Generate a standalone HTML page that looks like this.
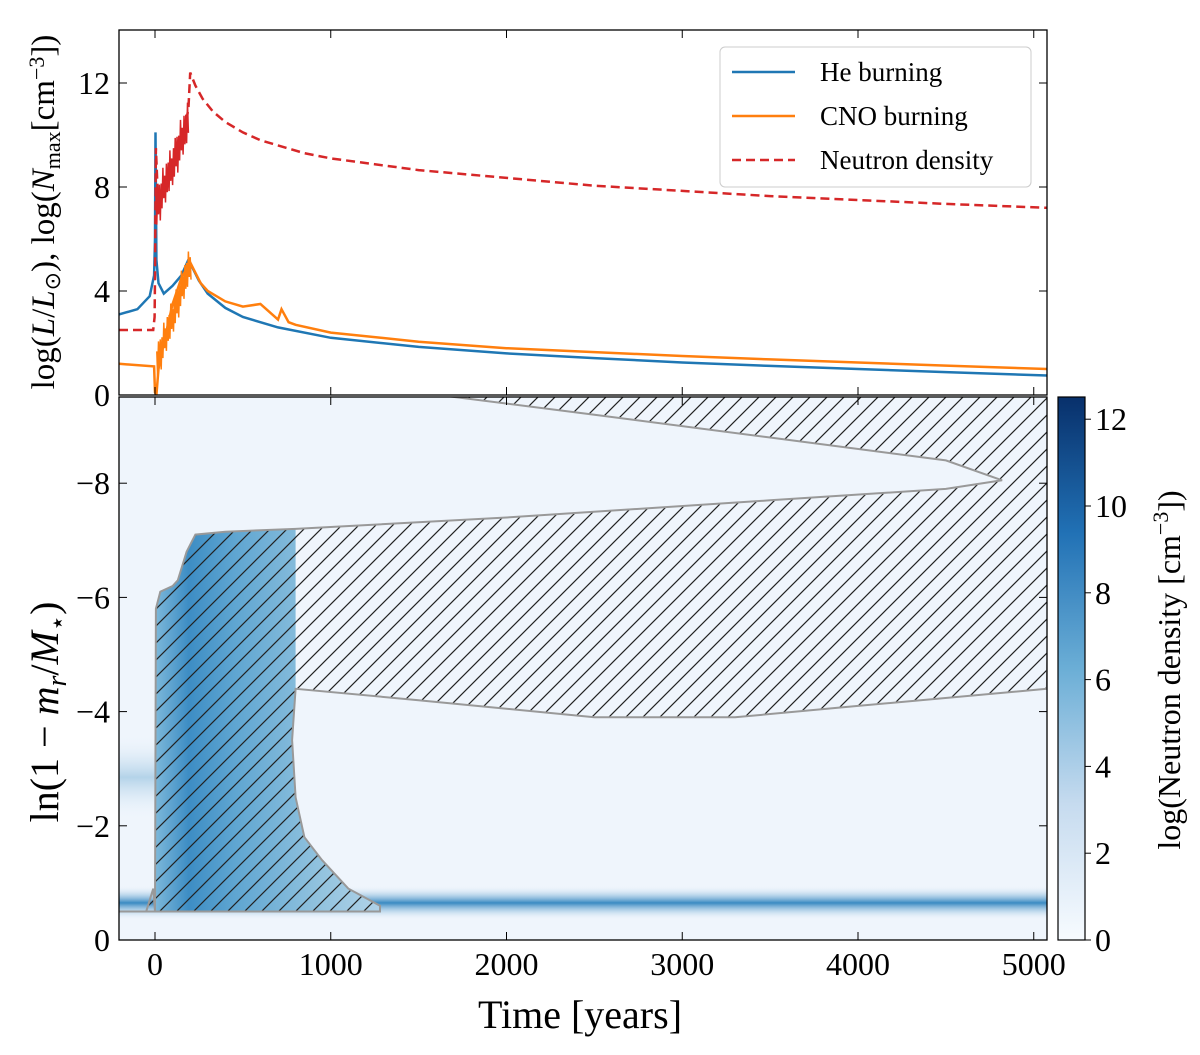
<!DOCTYPE html>
<html><head><meta charset="utf-8"><style>
body{margin:0;background:#fff;}
svg text{font-family:"Liberation Serif",serif;fill:#000;}
</style></head><body>
<svg id="c" width="1200" height="1050" viewBox="0 0 1200 1050">
<defs>
<pattern id="hatch" patternUnits="userSpaceOnUse" width="17" height="17">
<path d="M-2,19 L19,-2 M-2,2 L2,-2 M15,19 L19,15" stroke="#222" stroke-width="1.2"/>
</pattern>
<linearGradient id="convBlue" x1="0" x2="1" y1="0" y2="0">
<stop offset="0" stop-color="#7db8da"/>
<stop offset="0.15" stop-color="#3d8dc4"/>
<stop offset="0.35" stop-color="#5ea5d1"/>
<stop offset="0.75" stop-color="#94c4df"/>
<stop offset="1" stop-color="#b0d2e8"/>
</linearGradient>
<linearGradient id="band" x1="0" x2="0" y1="0" y2="1">
<stop offset="0" stop-color="#f0f6fd" stop-opacity="0"/>
<stop offset="0.5" stop-color="#3a8ac2"/>
<stop offset="1" stop-color="#f0f6fd" stop-opacity="0"/>
</linearGradient>
<linearGradient id="band2" x1="0" x2="0" y1="0" y2="1">
<stop offset="0" stop-color="#f0f6fd" stop-opacity="0"/>
<stop offset="0.5" stop-color="#b4d3e9"/>
<stop offset="1" stop-color="#f0f6fd" stop-opacity="0"/>
</linearGradient>
<linearGradient id="cbar" x1="0" x2="0" y1="1" y2="0">
<stop offset="0" stop-color="#f7fbff"/>
<stop offset="0.25" stop-color="#c6dbef"/>
<stop offset="0.5" stop-color="#6baed6"/>
<stop offset="0.75" stop-color="#2171b5"/>
<stop offset="1" stop-color="#08306b"/>
</linearGradient>
<clipPath id="clipTop"><rect x="119" y="30" width="928" height="365"/></clipPath>
<clipPath id="clipBot"><rect x="119" y="397" width="928" height="543"/></clipPath>
</defs>
<g id="topPanel"></g>
<g id="botPanel"></g>
</svg>
<script>
const NS="http://www.w3.org/2000/svg";
const svgEl=document.getElementById('c');
function mk(tag,attrs,parent){const e=document.createElementNS(NS,tag);for(const k in attrs)e.setAttribute(k,attrs[k]);(parent||svgEl).appendChild(e);return e;}
const heT=[-205,-100,-30,-5,0,3,8,20,50,100,150,190,220,250,300,400,500,700,1000,1500,2000,2500,3000,3500,4000,4500,5075];
const heV=[3.1,3.3,3.8,4.6,6,10.1,5.2,4.3,3.9,4.2,4.6,5.2,4.8,4.4,3.9,3.35,3.0,2.6,2.2,1.85,1.6,1.42,1.25,1.12,1.0,0.88,0.75];
const cnoT=[-205,-5,0,8,20,50,100,150,200,230,260,300,400,500,600,700,720,760,800,1000,1500,2000,2500,3000,3500,4000,4500,5075];
const cnoV=[1.2,1.1,0.1,0,1.0,2.0,3.5,4.5,5.1,4.7,4.3,4.0,3.6,3.4,3.5,2.9,3.3,2.8,2.7,2.4,2.05,1.8,1.65,1.5,1.37,1.25,1.13,1.0];
const nT=[-205,-10,-2,0,5,20,50,100,150,190,200,230,270,330,400,500,600,700,850,1000,1500,2000,2500,3000,3500,4000,4500,5075];
const nV=[2.5,2.5,3.0,4.5,9.5,7,8,8.8,9.6,11.0,12.4,11.9,11.4,10.9,10.5,10.1,9.8,9.6,9.3,9.1,8.65,8.35,8.05,7.85,7.65,7.5,7.35,7.2];
const nNoise=[0.8,-0.9,1.1,-0.6,0.9,-1.2,0.7,-0.8,1.3,-0.5,0.6,-1.0,1.0,-0.7,0.8,-0.9,1.2,-0.6,0.5,-1.1];
const topTicks=[0,4,8,12];
const botTicks=[0,-2,-4,-6,-8];
const xTicks=[0,1000,2000,3000,4000,5000];
const cbTicks=[0,2,4,6,8,10,12];
const convTopT=[0,5,30,100,130,180,230,400,800,2000,3500,4500,4820,4500,3500,2500,1600];
const convTopV=[0.5,5.8,6.1,6.2,6.3,6.8,7.1,7.15,7.2,7.4,7.7,7.9,8.05,8.4,8.8,9.2,9.55];
const convLowT=[5075,4000,3300,2500,1500,800,780,800,850,950,1100,1280,1280];
const convLowV=[4.4,4.1,3.9,3.9,4.2,4.4,3.5,2.5,1.8,1.4,0.9,0.6,0.5];
const X=t=>155+(t)*0.17575;
const YT=v=>395-v*26;
const YB=v=>940-v*57.1;
const YC=v=>940-v*43.4;
function path(ts,vs,Y){return ts.map((t,i)=>(i?'L':'M')+X(t).toFixed(1)+','+Y(vs[i]).toFixed(1)).join(' ');}
const topG=document.getElementById('topPanel'), botG=document.getElementById('botPanel');
const tg=mk('g',{'clip-path':'url(#clipTop)'},topG);
let e=mk('path',{d:path(heT,heV,YT),fill:'none',stroke:'#1f77b4','stroke-width':2.5},tg);


let noisy='';for(let i=0;i<40;i++){const t=10+i*5;const base=1+t/200*4;noisy+=(i?'L':'M')+X(t).toFixed(1)+','+YT(base+nNoise[i%20]*0.6).toFixed(1);}
e=mk('path',{d:path(cnoT,cnoV,YT),fill:'none',stroke:'#ff7f0e','stroke-width':2.5},tg);


e=mk('path',{d:noisy,fill:'none',stroke:'#ff7f0e','stroke-width':1.5},tg);


let nn='';for(let i=0;i<38;i++){const t=5+i*5;const base=7+t/190*3.5;nn+=(i?'L':'M')+X(t).toFixed(1)+','+YT(base+nNoise[i%20]*0.7).toFixed(1);}
e=mk('path',{d:nn,fill:'none',stroke:'#d62728','stroke-width':1.5},tg);


e=mk('path',{d:path(nT,nV,YT),fill:'none',stroke:'#d62728','stroke-width':2.5,'stroke-dasharray':'9,5'},tg);


e=mk('rect',{x:119,y:30,width:928,height:365,fill:'none',stroke:'#000','stroke-width':1.3},topG);


topTicks.forEach(v=>{const y=YT(v);mk('line',{x1:119,x2:127,y1:y,y2:y,stroke:'#000'},topG);mk('line',{x1:1039,x2:1047,y1:y,y2:y,stroke:'#000'},topG);
 const t=mk('text',{x:110,y:y+11,'font-size':32,'text-anchor':'end'},topG);t.textContent=v;
 
 });
xTicks.forEach(v=>{const x=X(v);mk('line',{x1:x,x2:x,y1:30,y2:38,stroke:'#000'},topG);mk('line',{x1:x,x2:x,y1:387,y2:395,stroke:'#000'},topG);});
const lg=mk('g',{},topG);


mk('rect',{x:720,y:47,width:311,height:140,rx:5,fill:'#fff',stroke:'#ccc'},lg);
[['He burning','#1f77b4',''],['CNO burning','#ff7f0e',''],['Neutron density','#d62728','9,5']].forEach((r,i)=>{
 const y=72+i*44;mk('line',{x1:732,x2:795,y1:y,y2:y,stroke:r[1],'stroke-width':2.5,'stroke-dasharray':r[2]||'none'},lg);
 const t=mk('text',{x:820,y:y+9,'font-size':27},lg);t.textContent=r[0];
 
 });
const bg=mk('g',{'clip-path':'url(#clipBot)'},botG);
mk('rect',{x:119,y:397,width:928,height:543,fill:'#eff5fc'},bg);
e=mk('rect',{x:119,y:YB(3.6),width:X(0)-119,height:YB(2.1)-YB(3.6),fill:'url(#band2)'},bg);


e=mk('rect',{x:119,y:YB(0.95),width:928,height:YB(0.35)-YB(0.95),fill:'url(#band)'},bg);


let blue='M'+X(0)+','+YB(0.5);
for(let i=0;i<9;i++)blue+='L'+X(convTopT[i]).toFixed(1)+','+YB(convTopV[i]).toFixed(1);
blue+='L'+X(800)+','+YB(4.4);for(let i=6;i<13;i++)blue+='L'+X(convLowT[i]).toFixed(1)+','+YB(convLowV[i]).toFixed(1);blue+='Z';
e=mk('path',{d:blue,fill:'url(#convBlue)'},bg);


let hd='M'+X(-205)+','+YB(0.5)+'L'+X(-50)+','+YB(0.5)+'L'+X(-10)+','+YB(0.9);
convTopT.forEach((t,i)=>{hd+='L'+X(t).toFixed(1)+','+YB(convTopV[i]).toFixed(1);});
hd+='L'+X(5100)+','+YB(9.6);
convLowT.forEach((t,i)=>{hd+='L'+X(t).toFixed(1)+','+YB(convLowV[i]).toFixed(1);});
hd+='Z';
e=mk('path',{d:hd,fill:'url(#hatch)',stroke:'#999','stroke-width':2},bg);


e=mk('rect',{x:119,y:397,width:928,height:543,fill:'none',stroke:'#000','stroke-width':1.3},botG);


botTicks.forEach(v=>{const y=YB(-v);mk('line',{x1:119,x2:127,y1:y,y2:y,stroke:'#000'},botG);mk('line',{x1:1039,x2:1047,y1:y,y2:y,stroke:'#000'},botG);
 const t=mk('text',{x:110,y:y+11,'font-size':32,'text-anchor':'end'},botG);t.textContent=v===0?'0':'\u2212'+(-v);
 
 });
xTicks.forEach(v=>{const x=X(v);mk('line',{x1:x,x2:x,y1:397,y2:405,stroke:'#000'},botG);mk('line',{x1:x,x2:x,y1:932,y2:940,stroke:'#000'},botG);
 const t=mk('text',{x:x,y:975,'font-size':32,'text-anchor':'middle'},botG);t.textContent=v;
 
 });
e=mk('rect',{x:1058,y:397,width:27,height:543,fill:'url(#cbar)',stroke:'#000','stroke-width':1.2});


cbTicks.forEach(v=>{const y=YC(v);mk('line',{x1:1085,x2:1091,y1:y,y2:y,stroke:'#000'});
 const t=mk('text',{x:1095,y:y+11,'font-size':32});t.textContent=v;
 
 });
let t=mk('text',{x:580,y:1028,'font-size':40,'text-anchor':'middle'});t.textContent='Time [years]';


t=mk('text',{x:0,y:0,'font-size':40,'text-anchor':'middle',transform:'translate(58,712) rotate(-90)'});t.innerHTML='ln(1 \u2212 <tspan font-style="italic">m</tspan><tspan font-style="italic" font-size="28" dy="8">r</tspan><tspan dy="-8">/</tspan><tspan font-style="italic">M</tspan><tspan font-size="26" dy="8">\u22C6</tspan><tspan dy="-8">)</tspan>';


t=mk('text',{x:0,y:0,'font-size':33,'text-anchor':'middle',transform:'translate(54,212) rotate(-90)'});t.innerHTML='log(<tspan font-style="italic">L</tspan>/<tspan font-style="italic">L</tspan><tspan font-size="22" dy="6">\u2299</tspan><tspan dy="-6">), log(</tspan><tspan font-style="italic">N</tspan><tspan font-size="22" dy="6">max</tspan><tspan dy="-6">[cm</tspan><tspan font-size="22" dy="-10">\u22123</tspan><tspan dy="10">])</tspan>';


t=mk('text',{x:0,y:0,'font-size':32,'text-anchor':'middle',transform:'translate(1180,670) rotate(-90)'});t.innerHTML='log(Neutron density [cm<tspan font-size="22" dy="-12">\u22123</tspan><tspan dy="12">])</tspan>';


</script>
</body></html>
